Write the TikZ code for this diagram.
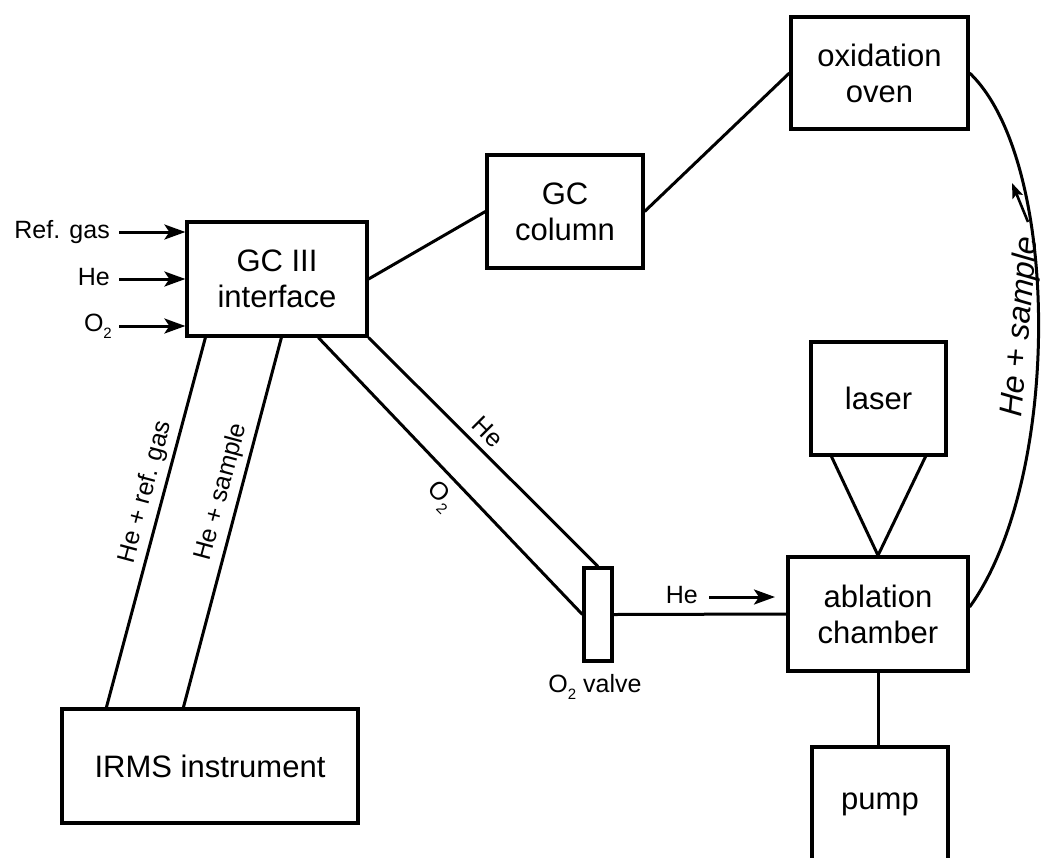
\documentclass[tikz,border=0pt]{standalone}
\usepackage{fontspec}
\setmainfont{Liberation Sans}
\usetikzlibrary{arrows.meta}
\newcommand\lowsub[1]{\raisebox{-0.28em}{\fontsize{15}{15}\selectfont #1}}
\begin{document}
\begin{tikzpicture}[x=1pt,y=-1pt,
  box/.style={draw,line width=3.2pt,inner sep=0pt,align=center,font=\fontsize{31}{36}\selectfont},
  lbl/.style={inner sep=0pt,font=\fontsize{25}{30}\selectfont},
  conn/.style={line width=3pt},
  arr/.style={line width=3pt,-{Stealth[length=21pt,width=15pt,inset=5pt]}},
  smallarr/.style={line width=2.6pt,-{Stealth[length=15pt,width=11pt,inset=3pt]}}]
\useasboundingbox (0,0) rectangle (1043,857);

% boxes
\node[box,minimum width=180pt,minimum height=114pt] (gc) at (277,279) {GC III\\interface};
\node[box,minimum width=156pt,minimum height=113pt] (col) at (565,211.5) {GC\\column};
\node[box,minimum width=177pt,minimum height=112pt] (oven) at (879.5,73) {oxidation\\oven};
\node[box,minimum width=135pt,minimum height=113pt] (laser) at (878.5,398.5) {laser};
\node[box,minimum width=180pt,minimum height=114pt] (abl) at (878,614) {ablation\\chamber};
\node[box,minimum width=136pt,minimum height=114pt] (pump) at (880,804) {pump};
\node[box,minimum width=296pt,minimum height=114pt] (irms) at (210,766) {IRMS instrument};
\node[box,minimum width=28pt,minimum height=93pt] (valve) at (598,614.5) {};

% inputs to GC interface
\node[lbl,anchor=base east] (lref) at (110,238) {Ref. gas};
\node[lbl,anchor=base east] (lhe) at (110,285) {He};
\node[lbl,anchor=base east] (lo2) at (112,331) {O\lowsub{2}};
\coordinate (inref) at (119,232);
\coordinate (inhe) at (119,279);
\coordinate (ino2) at (119,326);
\draw[arr] (inref) -- (inref -| gc.west);
\draw[arr] (inhe) -- (inhe -| gc.west);
\draw[arr] (ino2) -- (ino2 -| gc.west);

% connectors
\draw[conn] (gc.east) -- (col.west);
\draw[conn] (col.east) -- (oven.west);
\draw[conn] ([xshift=20pt]gc.south west) -- ([xshift=46pt]irms.north west);
\draw[conn] ([xshift=96pt]gc.south west) -- ([xshift=123pt]irms.north west);
\draw[conn] ([xshift=133pt]gc.south west) -- (valve.west);
\draw[conn] (gc.south east) -- (valve.north);
\draw[conn] (valve.east) -- (abl.west);
\draw[conn] (abl.south) -- (pump.north -| abl.south);
\draw[conn] ([xshift=-47pt]laser.south) -- (abl.north) -- ([xshift=47pt]laser.south);
\draw[conn] (oven.east) .. controls +(92,88) and +(92,-127) .. ([yshift=7pt]abl.east);

% labels
\node[lbl,rotate=75] (lhref) at (146,492) {He + ref. gas};
\node[lbl,rotate=75] (lhsam) at (222,492) {He + sample};
\node[lbl,rotate=-45] (ldhe) at (488,432) {He};
\node[lbl,rotate=-45] (ldo2) at (440,497) {O\lowsub{2}};
\node[lbl,anchor=base] (lvalve) at (595,692) {O\lowsub{2} valve};
\node[lbl,anchor=base east] (lhe2) at (698,603) {He};
\coordinate (hein) at (709,597);
\coordinate (heout) at (775,597);
\draw[arr] (hein) -- (heout);
\node[lbl,rotate=85,font=\fontsize{32}{36}\selectfont\itshape] (lret) at (1021,327) {He + sample};
\coordinate (rettail) at (1028,222);
\coordinate (rettip) at (1012,183);
\draw[smallarr] (rettail) -- (rettip);
\end{tikzpicture}
\end{document}
